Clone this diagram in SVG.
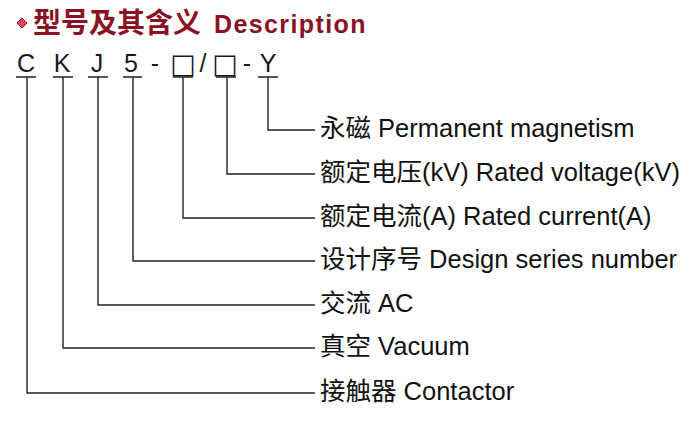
<svg xmlns="http://www.w3.org/2000/svg" width="700" height="425" viewBox="0 0 700 425">
<style>
.code{font-family:"Liberation Sans",Arial,sans-serif;font-size:25px;fill:#1a1a1a;text-anchor:middle}
.box{font-family:"DejaVu Sans",sans-serif;font-size:27px;fill:#1a1a1a;text-anchor:middle}
.lbl{font-family:"Liberation Sans","Noto Sans CJK SC",sans-serif;font-size:25.5px;fill:#111}
.ln{stroke:#222;stroke-width:1.4;fill:none}
.title{font-family:"Liberation Sans","Noto Sans CJK SC",sans-serif;font-weight:bold;fill:#8a1224}
</style>
<rect width="700" height="425" fill="#ffffff"/>
<g id="title">
<path d="M22 18 L27 23 L22 28 L17 23 Z" fill="#d94a5a" stroke="#a01828" stroke-width="1"/>
<text class="title" x="33" y="33" font-size="28">型号及其含义</text>
<text class="title" x="214" y="33" font-size="25" letter-spacing="1.4">Description</text>
</g>
<g id="code">
<text class="code" x="26" y="72">C</text>
<text class="code" x="62" y="72">K</text>
<text class="code" x="97" y="72">J</text>
<text class="code" x="131" y="72">5</text>
<text class="code" x="155" y="72">-</text>
<text class="box" x="183" y="73">□</text>
<text class="code" x="203" y="72">/</text>
<text class="box" x="225" y="73">□</text>
<text class="code" x="247" y="72">-</text>
<text class="code" x="268" y="72">Y</text>
</g>
<g id="connectors">
<path class="ln" d="M16 77 H36 M27 77 V393 H315"/>
<path class="ln" d="M53 77 H73 M63 77 V348 H315"/>
<path class="ln" d="M88 77 H108 M98 77 V305 H315"/>
<path class="ln" d="M123 77 H142 M133 77 V261 H315"/>
<path class="ln" d="M173 77 H193 M183 77 V218 H315"/>
<path class="ln" d="M216 77 H236 M227 77 V174 H315"/>
<path class="ln" d="M258 77 H278 M268 77 V130 H315"/>
</g>
<g id="n1"><text class="lbl" x="320" y="137">永磁 Permanent magnetism</text></g>
<g id="n2"><text class="lbl" x="320" y="181">额定电压(kV) Rated voltage(kV)</text></g>
<g id="n3"><text class="lbl" x="320" y="225">额定电流(A) Rated current(A)</text></g>
<g id="n4"><text class="lbl" x="320" y="268">设计序号 Design series number</text></g>
<g id="n5"><text class="lbl" x="320" y="312">交流 AC</text></g>
<g id="n6"><text class="lbl" x="320" y="355">真空 Vacuum</text></g>
<g id="n7"><text class="lbl" x="320" y="400">接触器 Contactor</text></g>
</svg>
